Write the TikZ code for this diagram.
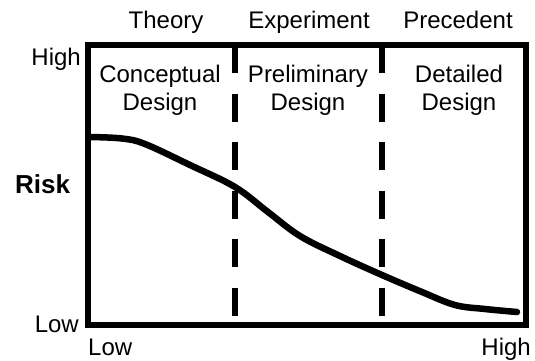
\documentclass[tikz,border=0pt]{standalone}
\usepackage{fontspec}
\setmainfont{Liberation Sans}
\usetikzlibrary{positioning}

\begin{document}
\begin{tikzpicture}[x=1pt, y=-1pt,
  lbl/.style={font=\fontsize{24}{28}\selectfont, inner sep=0pt},
  phase/.style={lbl, align=center, anchor=base},
  divider/.style={line width=6pt, dash pattern=on 28pt off 20.5pt},
  riskline/.style={line width=6.5pt, line cap=round, line join=round}]
  \useasboundingbox (0,0) rectangle (535,360);

  % frame
  \draw[line width=6pt] (88,45) rectangle (526,325);

  % phase dividers
  \draw[divider] (235,45) -- (235,325);
  \draw[divider] (382,45) -- (382,325);

  % knowledge basis
  \node[lbl, anchor=base] (theory) at (166,28) {Theory};
  \node[lbl, anchor=base] (experiment) at (309,28) {Experiment};
  \node[lbl, anchor=base] (precedent) at (458,28) {Precedent};

  % design phases
  \node[phase] (conceptual) at (160,110) {Conceptual\\Design};
  \node[phase] (preliminary) at (308,110) {Preliminary\\Design};
  \node[phase] (detailed) at (459,110) {Detailed\\Design};

  % axis labels
  \node[lbl, anchor=base east] (yhigh) at (81,65) {High};
  \node[lbl, anchor=base east] (ylow) at (79,332) {Low};
  \node[lbl, anchor=base west, font=\fontsize{26}{30}\selectfont\bfseries] (risk) at (15,193) {Risk};
  \node[lbl, anchor=base west] (xlow) at (88,355) {Low};
  \node[lbl, anchor=base east] (xhigh) at (531,355) {High};

  % risk curve
  \draw[riskline] plot[smooth, tension=0.6] coordinates {
    (90,137) (122,138.5) (145,144) (190,165) (235,187) (268,212)
    (300,236) (340,256) (382,275) (422,292) (455,305) (485,309)
    (517,312)};
\end{tikzpicture}
\end{document}
